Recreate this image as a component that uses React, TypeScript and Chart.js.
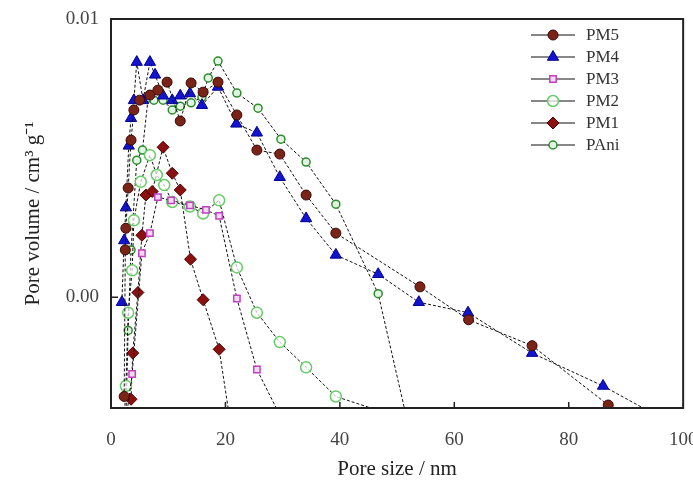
import React, { useEffect, useRef } from "react";
import { Chart, registerables } from "chart.js";

Chart.register(...registerables);

// ---- data (pore size in nm, pore volume in cm3 g-1) ----
const pm5X = [2.3, 2.5, 2.6, 3.0, 3.5, 4.0, 5.0, 6.8, 8.2, 9.8, 12.1, 14.0, 16.1, 18.7, 22.0, 25.5, 29.5, 34.1, 39.3, 54.0, 62.5, 73.6, 86.9, 92];
const pm5Y = [0.00044, 0.00148, 0.00177, 0.00247, 0.00367, 0.00471, 0.00511, 0.00533, 0.00555, 0.00593, 0.0043, 0.00589, 0.00546, 0.00593, 0.00452, 0.00338, 0.00327, 0.00233, 0.0017, 0.00109, 0.00083, 0.00067, 0.00041, 0.00031];

const pm4X = [1.9, 2.3, 2.6, 3.1, 3.5, 4.0, 4.5, 5.6, 6.8, 7.7, 9.1, 10.7, 12.1, 13.8, 15.9, 18.7, 21.9, 25.5, 29.5, 34.1, 39.3, 46.7, 53.8, 62.4, 73.6, 86.0, 96];
const pm4Y = [0.00096, 0.0016, 0.0021, 0.0035, 0.0044, 0.0051, 0.007, 0.0051, 0.007, 0.0063, 0.0053, 0.0051, 0.0053, 0.0054, 0.0049, 0.0057, 0.0042, 0.0039, 0.0027, 0.00192, 0.00142, 0.00121, 0.00096, 0.00088, 0.00063, 0.00048, 0.00037];

const pm3X = [2.6, 3.7, 5.4, 6.8, 8.2, 10.5, 13.8, 16.6, 18.9, 22.0, 25.5, 29.5];
const pm3Y = [0.00036, 0.00053, 0.00144, 0.0017, 0.00229, 0.00223, 0.00214, 0.00206, 0.00196, 0.00099, 0.00055, 0.000377];

const pm2X = [2.3, 2.6, 3.0, 3.7, 4.0, 5.2, 6.8, 8.0, 9.3, 10.7, 13.8, 16.1, 18.9, 22.0, 25.5, 29.5, 34.1, 39.3, 54.0];
const pm2Y = [0.00036, 0.00048, 0.00088, 0.00125, 0.00189, 0.0026, 0.00324, 0.00275, 0.00253, 0.0022, 0.00212, 0.002, 0.00223, 0.00128, 0.00088, 0.00069, 0.00056, 0.00044, 0.00035];

const pm1X = [3.5, 3.8, 4.7, 5.4, 6.1, 7.2, 9.1, 10.7, 12.1, 13.9, 16.1, 18.9, 21.0];
const pm1Y = [0.00043, 0.00063, 0.00104, 0.00167, 0.00233, 0.0024, 0.00346, 0.00279, 0.00243, 0.00137, 0.00098, 0.00065, 0.00034];

const paniX = [2.6, 3.0, 3.5, 4.5, 5.5, 6.5, 7.5, 9.1, 10.7, 12.1, 14.0, 15.9, 17.0, 18.7, 22.0, 25.7, 29.7, 34.1, 39.3, 46.7, 52.5];
const paniY = [0.00036, 0.00076, 0.00148, 0.00311, 0.00338, 0.0052, 0.00511, 0.00511, 0.00471, 0.00486, 0.005, 0.00524, 0.00614, 0.00706, 0.00542, 0.00478, 0.0037, 0.00306, 0.00216, 0.00103, 0.00031];

const seriesNames = ["PM5", "PM4", "PM3", "PM2", "PM1", "PAni"];
const xTickValues = [0, 20, 40, 60, 80, 100];
const yTickValues = [0.001, 0.01];

const FONT = "'Liberation Serif', 'Times New Roman', serif";
const CANVAS_W = 718;
const CANVAS_H = 486;

const styles = [
  { pointStyle: "circle", radius: 5, bg: "#7a2418", border: "#3a0808", bw: 1 },
  { pointStyle: "triangle", radius: 6.5, bg: "#1414d0", border: "#000090", bw: 1 },
  { pointStyle: "rect", radius: 4.5, bg: "#f4d8f4", border: "#c040c0", bw: 1.5 },
  { pointStyle: "circle", radius: 5.5, bg: "rgba(255,255,255,0.7)", border: "#66cc66", bw: 1.5 },
  { pointStyle: "rectRot", radius: 6, bg: "#8b1010", border: "#4a0000", bw: 1 },
  { pointStyle: "circle", radius: 4, bg: "#e2f5e2", border: "#2e8b2e", bw: 1.5 },
];

function pts(xs: number[], ys: number[]) {
  return xs.map((x, i) => ({ x, y: ys[i] }));
}

function drawMarker(ctx: CanvasRenderingContext2D, st: any, x: number, y: number) {
  ctx.save();
  ctx.fillStyle = st.bg;
  ctx.strokeStyle = st.border;
  ctx.lineWidth = st.bw;
  const r = st.radius;
  ctx.beginPath();
  if (st.pointStyle === "circle") {
    ctx.arc(x, y, r, 0, Math.PI * 2);
  } else if (st.pointStyle === "triangle") {
    ctx.moveTo(x, y - r);
    ctx.lineTo(x + r * 0.866, y + r * 0.5);
    ctx.lineTo(x - r * 0.866, y + r * 0.5);
    ctx.closePath();
  } else if (st.pointStyle === "rect") {
    const s = r * Math.SQRT1_2;
    ctx.rect(x - s, y - s, 2 * s, 2 * s);
  } else {
    ctx.moveTo(x, y - r);
    ctx.lineTo(x + r, y);
    ctx.lineTo(x, y + r);
    ctx.lineTo(x - r, y);
    ctx.closePath();
  }
  ctx.fill();
  ctx.stroke();
  ctx.restore();
}

const framePlugin = {
  id: "frameAndLegend",
  afterDraw(chart: any) {
    const { ctx, chartArea: a, scales } = chart;
    ctx.save();
    ctx.strokeStyle = "#222";
    ctx.lineWidth = 2;
    ctx.strokeRect(a.left, a.top, a.right - a.left, a.bottom - a.top);
    ctx.lineWidth = 1.5;
    ctx.beginPath();
    [20, 40, 60, 80].forEach((v) => {
      const px = scales.x.getPixelForValue(v);
      ctx.moveTo(px, a.bottom);
      ctx.lineTo(px, a.bottom - 6);
    });
    const py = scales.y.getPixelForValue(0.001);
    ctx.moveTo(a.left, py);
    ctx.lineTo(a.left + 7, py);
    ctx.stroke();

    const x0 = a.left + 420;
    const y0 = a.top + 16;
    const step = 22;
    ctx.font = `17px ${FONT}`;
    ctx.textBaseline = "middle";
    ctx.textAlign = "left";
    seriesNames.forEach((name, i) => {
      const y = y0 + i * step;
      ctx.strokeStyle = "#111";
      ctx.lineWidth = 1.2;
      ctx.beginPath();
      ctx.moveTo(x0, y);
      ctx.lineTo(x0 + 44, y);
      ctx.stroke();
      drawMarker(ctx, styles[i], x0 + 22, y);
      ctx.fillStyle = "#333";
      ctx.fillText(name, x0 + 55, y + 1);
    });
    ctx.restore();
  },
};

export default function App() {
  const ref = useRef<HTMLCanvasElement | null>(null);

  useEffect(() => {
    if (!ref.current) return;
    const xs = [pm5X, pm4X, pm3X, pm2X, pm1X, paniX];
    const ys = [pm5Y, pm4Y, pm3Y, pm2Y, pm1Y, paniY];
    const datasets = seriesNames.map((name, i) => ({
      label: name,
      data: pts(xs[i], ys[i]),
      borderColor: "#111",
      borderWidth: 1,
      borderDash: [3, 2],
      pointStyle: styles[i].pointStyle,
      pointRadius: styles[i].radius,
      pointBackgroundColor: styles[i].bg,
      pointBorderColor: styles[i].border,
      pointBorderWidth: styles[i].bw,
      tension: 0,
      fill: false,
    }));

    const chart = new Chart(ref.current, {
      type: "line",
      data: { datasets },
      options: {
        responsive: false,
        animation: false,
        events: [],
        layout: { padding: { top: 19, left: 0, right: 0, bottom: 0 } },
        plugins: { legend: { display: false }, tooltip: { enabled: false } },
        scales: {
          x: {
            type: "linear",
            min: 0,
            max: 100,
            afterBuildTicks: (s: any) => {
              s.ticks = xTickValues.map((v) => ({ value: v }));
            },
            afterFit: (s: any) => {
              s.height = 78;
            },
            ticks: {
              padding: 20.6,
              color: "#444",
              font: { family: FONT, size: 19 },
              autoSkip: false,
              maxRotation: 0,
            },
            grid: { display: false, drawTicks: false },
            border: { display: false },
            title: {
              display: true,
              text: "Pore size / nm",
              color: "#222",
              font: { family: FONT, size: 21 },
              padding: { top: 5, bottom: 4.4 },
            },
          },
          y: {
            type: "logarithmic",
            min: 0.0004,
            max: 0.01,
            afterBuildTicks: (s: any) => {
              s.ticks = yTickValues.map((v) => ({ value: v }));
            },
            afterFit: (s: any) => {
              s.width = 111;
            },
            ticks: {
              padding: 12,
              color: "#444",
              font: { family: FONT, size: 19, lineHeight: 0.7 },
              autoSkip: false,
              callback: (v: any) => Number(v).toFixed(2),
            },
            grid: { display: false, drawTicks: false },
            border: { display: false },
            title: {
              display: true,
              text: "Pore volume / cm³ g⁻¹",
              color: "#222",
              font: { family: FONT, size: 21 },
              padding: { top: 20.4, bottom: 20.1 },
            },
          },
        },
      },
      plugins: [framePlugin],
    } as any);
    return () => chart.destroy();
  }, []);

  return (
    <div style={{ position: "fixed", left: 0, top: 0, width: 693, height: 486, overflow: "hidden", background: "#fff" }}>
      <canvas ref={ref} width={CANVAS_W} height={CANVAS_H} style={{ display: "block" }} />
    </div>
  );
}
